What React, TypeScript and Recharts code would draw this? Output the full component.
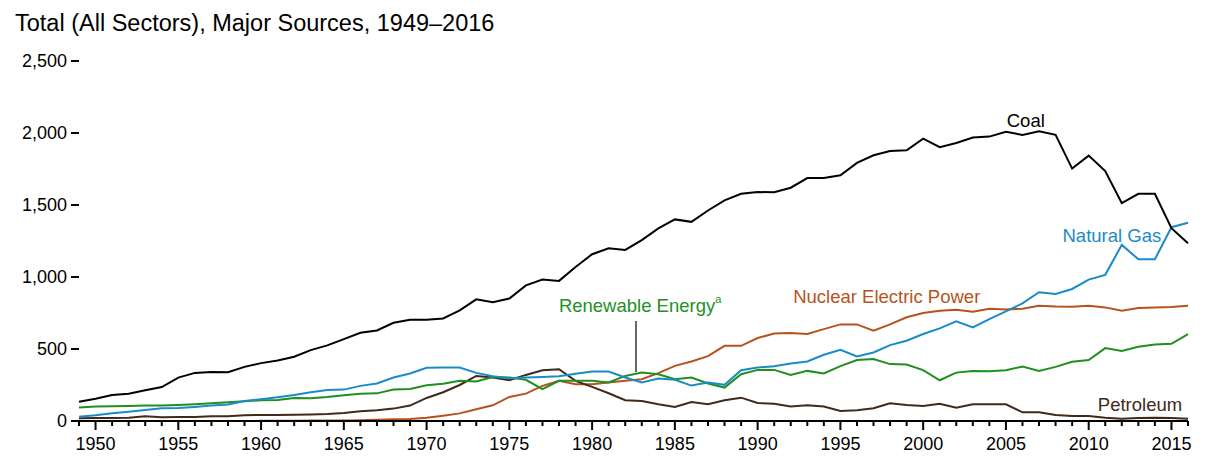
import { LineChart, Line, XAxis, YAxis, ReferenceDot, ReferenceLine } from 'recharts';

const years = Array.from({ length: 68 }, (_, i) => 1949 + i);

const coal = [
  134, 155, 181, 190, 213, 236, 301, 334, 341, 339,
  376, 402, 420, 446, 492, 525, 569, 613, 629, 682,
  703, 703, 712, 768, 845, 824, 850, 942, 982, 973,
  1070, 1158, 1200, 1188, 1256, 1337, 1400, 1383, 1462, 1532,
  1578, 1590, 1588, 1620, 1687, 1687, 1706, 1792, 1845, 1875,
  1880, 1961, 1901, 1931, 1968, 1975, 2008, 1987, 2012, 1987,
  1753, 1843, 1736, 1513, 1578, 1578, 1339, 1235,
];

const naturalGas = [
  30, 40, 53, 65, 77, 88, 91, 98, 107, 114,
  139, 151, 165, 181, 200, 216, 218, 244, 260, 302,
  330, 369, 371, 371, 334, 311, 297, 302, 305, 310,
  328, 344, 344, 302, 267, 295, 286, 246, 267, 251,
  353, 371, 381, 399, 413, 460, 494, 448, 476, 527,
  557, 604, 643, 692, 650, 708, 761, 817, 894, 882,
  917, 982, 1015, 1223, 1123, 1123, 1346, 1377,
];

const nuclear = [
  0, 0, 0, 0, 0, 0, 0, 0, 0, 0,
  0, 1, 2, 2, 3, 3, 4, 6, 9, 12,
  14, 22, 37, 53, 81, 109, 167, 190, 244, 279,
  256, 256, 267, 279, 290, 332, 383, 413, 450, 522,
  522, 576, 608, 611, 604, 638, 671, 671, 627, 671,
  720, 750, 766, 773, 759, 780, 775, 780, 801, 796,
  794, 801, 789, 766, 785, 789, 792, 801,
];

const renewable = [
  93, 100, 103, 105, 107, 107, 111, 116, 123, 130,
  137, 144, 146, 160, 158, 167, 179, 190, 192, 218,
  223, 248, 258, 279, 274, 306, 302, 286, 221, 279,
  279, 279, 267, 313, 336, 325, 290, 302, 260, 232,
  325, 355, 355, 320, 348, 330, 381, 423, 430, 395,
  392, 353, 283, 336, 348, 346, 353, 378, 348, 376,
  411, 423, 506, 487, 515, 531, 536, 604,
];

const petroleum = [
  19, 21, 21, 23, 33, 26, 28, 28, 33, 33,
  40, 42, 42, 44, 46, 49, 56, 67, 74, 86,
  107, 160, 200, 250, 313, 302, 283, 320, 353, 360,
  279, 237, 193, 144, 139, 116, 97, 132, 116, 144,
  162, 125, 120, 100, 109, 100, 70, 74, 88, 123,
  111, 104, 120, 93, 116, 116, 116, 60, 60, 42,
  35, 35, 23, 16, 21, 23, 21, 16,
];

const yTicks = [0, 500, 1000, 1500, 2000, 2500];

const data = years.map((year, i) => ({
  year,
  coal: coal[i],
  gas: naturalGas[i],
  nuclear: nuclear[i],
  renewable: renewable[i],
  petroleum: petroleum[i],
}));

const FONT = '"Liberation Sans", Arial, sans-serif';

const XTick = (props: any) => {
  const { x, y, payload } = props;
  const major = payload.value % 5 === 0;
  return (
    <g>
      <line x1={x} x2={x} y1={y} y2={y + (major ? 9 : 5)} stroke="#000" strokeWidth={2} />
      {major && (
        <text x={x} y={y + 29} textAnchor="middle" fontSize={18} fontFamily={FONT} fill="#000">
          {payload.value}
        </text>
      )}
    </g>
  );
};

const label = (text: string, color: string, sup?: string) => (p: any) => (
  <text x={p.cx} y={p.cy} textAnchor="middle" dominantBaseline="central" fontSize={18.5} fontFamily={FONT} fill={color}>
    {text}
    {sup && (
      <tspan fontSize={11} dy={-7}>
        {sup}
      </tspan>
    )}
  </text>
);

export default function App() {
  return (
    <div style={{ position: 'absolute', left: 0, top: 0, width: 1211, height: 463, background: '#fff' }}>
      <div style={{ position: 'absolute', left: 15, top: 10, fontFamily: FONT, fontSize: 23.5, color: '#000', whiteSpace: 'nowrap' }}>
        Total (All Sectors), Major Sources, 1949–2016
      </div>
      <LineChart width={1211} height={463} data={data} margin={{ top: 61, right: 23, bottom: 0, left: 0 }}>
        <XAxis
          dataKey="year"
          type="number"
          domain={[1949, 2016]}
          ticks={years}
          interval={0}
          tick={<XTick />}
          tickLine={false}
          tickSize={0}
          tickMargin={0}
          height={42}
          axisLine={{ stroke: '#000', strokeWidth: 2 }}
        />
        <YAxis
          type="number"
          domain={[0, 2500]}
          ticks={yTicks}
          width={79}
          axisLine={false}
          tickSize={8}
          tickMargin={4}
          tickLine={{ stroke: '#000', strokeWidth: 2 }}
          tickFormatter={(v: number) => v.toLocaleString('en-US')}
          tick={{ fill: '#000', fontSize: 18, fontFamily: FONT }}
        />
        <Line dataKey="nuclear" stroke="#b8521c" strokeWidth={2} dot={false} isAnimationActive={false} />
        <Line dataKey="petroleum" stroke="#3f2a1b" strokeWidth={2} dot={false} isAnimationActive={false} />
        <Line dataKey="renewable" stroke="#1f8f1f" strokeWidth={2} dot={false} isAnimationActive={false} />
        <Line dataKey="gas" stroke="#1b8bc6" strokeWidth={2} dot={false} isAnimationActive={false} />
        <Line dataKey="coal" stroke="#000" strokeWidth={2} dot={false} isAnimationActive={false} />
        <ReferenceLine
          segment={[{ x: 1982.65, y: 340 }, { x: 1982.65, y: 694 }]}
          stroke="#000"
          strokeWidth={1.2}
        />
        <ReferenceDot x={2006.2} y={2090} r={0} shape={label('Coal', '#000')} />
        <ReferenceDot x={2011.4} y={1285} r={0} shape={label('Natural Gas', '#1b8bc6')} />
        <ReferenceDot x={1997.8} y={868} r={0} shape={label('Nuclear Electric Power', '#b8521c')} />
        <ReferenceDot x={1982.9} y={799} r={0} shape={label('Renewable Energy', '#1f8f1f', 'a')} />
        <ReferenceDot x={2013.1} y={118} r={0} shape={label('Petroleum', '#3f2a1b')} />
      </LineChart>
    </div>
  );
}
